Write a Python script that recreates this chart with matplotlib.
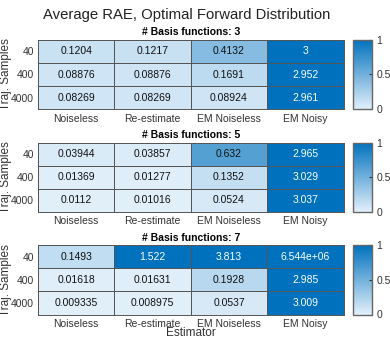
import matplotlib.pyplot as plt
import numpy as np
from matplotlib.colors import LinearSegmentedColormap

plt.rcParams['font.family'] = ['Liberation Sans', 'DejaVu Sans']

estimators = ["Noiseless", "Re-estimate", "EM Noiseless", "EM Noisy"]
samples = ["40", "400", "4000"]
basis_counts = [3, 5, 7]

rae_3 = [[0.1204, 0.1217, 0.4132, 3],
         [0.08876, 0.08876, 0.1691, 2.952],
         [0.08269, 0.08269, 0.08924, 2.961]]
rae_5 = [[0.03944, 0.03857, 0.632, 2.965],
         [0.01369, 0.01277, 0.1352, 3.029],
         [0.0112, 0.01016, 0.0524, 3.037]]
rae_7 = [[0.1493, 1.522, 3.813, 6.544e+06],
         [0.01618, 0.01631, 0.1928, 2.985],
         [0.009335, 0.008975, 0.0537, 3.009]]

W, H = 390, 339
cmap = LinearSegmentedColormap.from_list("sky", [(0.89, 0.94, 0.98), (0.0, 0.447, 0.741)])


def px_axes(fig, left, top, right, bottom):
    return fig.add_axes([left / W, 1 - bottom / H, (right - left) / W, (bottom - top) / H])


def plot_panel(fig, data, nbasis, top, bottom, show_xlabel):
    data = np.array(data, dtype=float)
    ax = px_axes(fig, 38, top, 343.5, bottom)
    mesh = ax.pcolormesh(np.clip(data, 0, 1), cmap=cmap, vmin=0, vmax=1,
                         edgecolors="#555555", linewidth=0.5)
    ax.set_xlim(0, 4)
    ax.set_ylim(3, 0)
    for i in range(data.shape[0]):
        for j in range(data.shape[1]):
            v = data[i, j]
            ax.text(j + 0.5, i + 0.5, "{:.4g}".format(v), ha="center", va="center",
                    fontsize=7.5, color="white" if min(v, 1) > 0.7 else "#111111")
    ax.set_xticks(np.arange(4) + 0.5)
    ax.set_xticklabels(estimators, fontsize=7.5, color="#333333")
    ax.set_yticks(np.arange(3) + 0.5)
    ax.set_yticklabels(samples, fontsize=7.5, color="#333333")
    ax.tick_params(length=0, pad=3)
    for s in ax.spines.values():
        s.set_color("#555555")
        s.set_linewidth(0.7)
    ax.set_title("# Basis functions: %d" % nbasis, fontsize=7.5, fontweight="bold", pad=3)
    ax.set_ylabel("Traj. Samples", fontsize=8.5, color="#333333")
    ax.yaxis.set_label_coords(-26.5 / 305.5, 0.5)
    if show_xlabel:
        ax.set_xlabel("Estimator", fontsize=8.5, color="#333333")
        ax.xaxis.set_label_coords(0.5, -(333 - bottom) / (bottom - top))
        ax.xaxis.label.set_va("center")

    cax = px_axes(fig, 353, top, 372, bottom)
    cb = fig.colorbar(mesh, cax=cax)
    cb.set_ticks([0, 0.5, 1])
    cb.set_ticklabels(["0", "0.5", "1"])
    cax.tick_params(labelsize=7.5, direction="in", length=2, colors="#333333", pad=3)
    cb.outline.set_edgecolor("#666666")
    cb.outline.set_linewidth(1.0)


fig = plt.figure(figsize=(W / 100, H / 100), dpi=100)
plot_panel(fig, rae_3, basis_counts[0], 39.5, 109.5, False)
plot_panel(fig, rae_5, basis_counts[1], 142.5, 212, False)
plot_panel(fig, rae_7, basis_counts[2], 245, 314.5, True)
fig.text(187 / W, 1 - 15 / H, "Average RAE, Optimal Forward Distribution",
         ha="center", va="center", fontsize=10.7, color="#222222")

plt.savefig("out.png", dpi=100)
